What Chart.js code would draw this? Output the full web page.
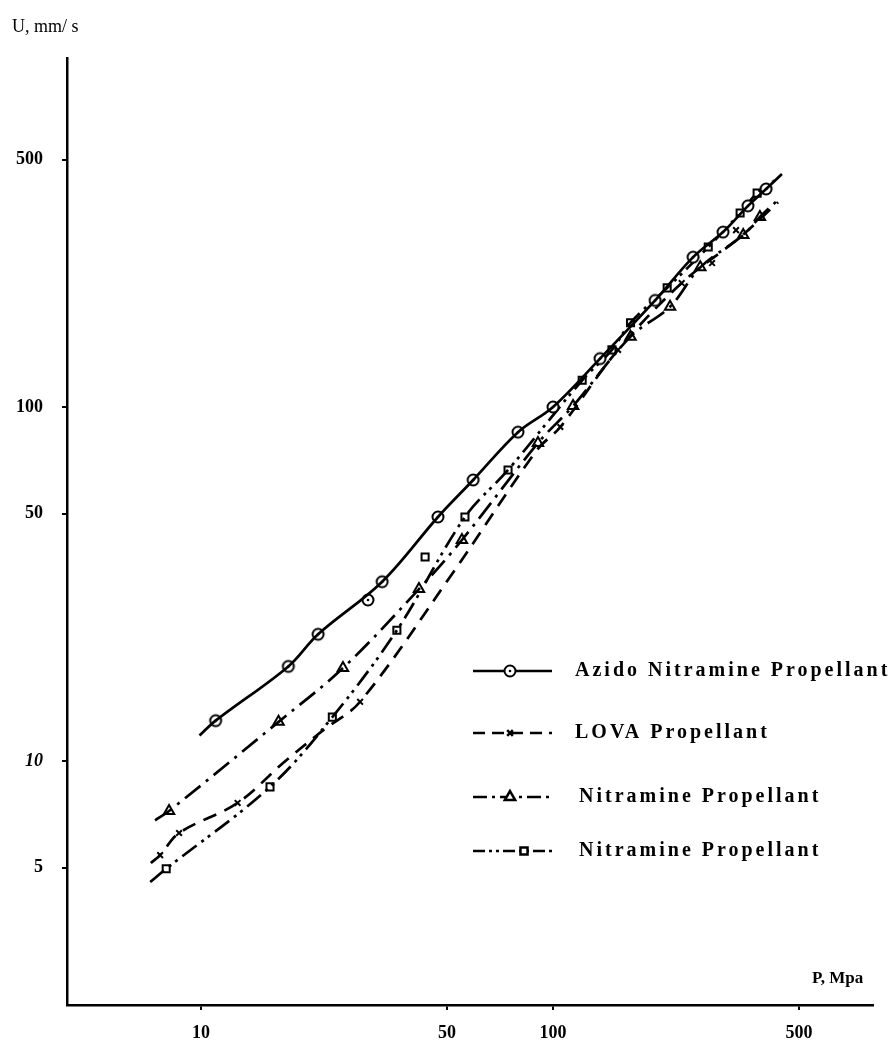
<!DOCTYPE html>
<html>
<head>
<meta charset="utf-8">
<script src="https://cdn.jsdelivr.net/npm/chart.js@4.4.1/dist/chart.umd.min.js"></script>
<style>
  body { margin: 0; background: #fff; }
  canvas { display: block; }
</style>
</head>
<body>
<canvas id="burnChart" width="893" height="1046"></canvas>
<script>
// Burning rate U (mm/s) vs pressure P (MPa)
const xTicks = [10, 50, 100, 500];
const yTicks = [5, 10, 50, 100, 500];

// Azido Nitramine Propellant (circles, solid)
const azidoP = [11.0, 17.7, 21.5, 29.8, 32.7, 47.1, 59.3, 79.5, 100, 136, 195, 250, 304, 358, 403];
const azidoU = [13.0, 18.5, 22.8, 28.5, 32.1, 48.9, 62.2, 84.9, 100, 137, 200, 265, 312, 370, 413];
const azidoCurveP = [9.9, 11.0, 17.7, 21.5, 32.7, 47.1, 59.3, 79.5, 100, 136, 195, 250, 304, 358, 403, 447];
const azidoCurveU = [11.8, 13.0, 18.5, 22.8, 32.1, 48.9, 62.2, 84.9, 100, 137, 200, 265, 312, 370, 413, 455];

// LOVA Propellant (x, dashed)
const lovaP = [7.65, 8.66, 12.7, 28.3, 104.9, 153, 232, 283, 331];
const lovaU = [5.42, 6.26, 7.61, 14.7, 87.8, 145, 224, 255, 316];
const lovaCurveP = [7.2, 7.65, 8.66, 12.7, 17.1, 22.2, 28.3, 51.6, 90.1, 104.9, 153, 232, 340, 436];
const lovaCurveU = [5.15, 5.42, 6.26, 7.61, 9.87, 12.2, 14.7, 33.7, 75.7, 87.8, 145, 224, 302, 379];

// Nitramine Propellant (triangles, dash-dot)
const triP = [8.11, 16.6, 25.3, 41.6, 55.1, 90.6, 114, 166, 215, 262, 347, 387];
const triU = [7.22, 12.9, 18.3, 30.6, 42.1, 79.1, 100.7, 158, 192, 248, 306, 344];
const triCurveP = [7.4, 8.11, 16.6, 25.3, 41.6, 55.1, 90.6, 114, 166, 215, 262, 347, 387, 442];
const triCurveU = [6.8, 7.22, 12.9, 18.3, 30.6, 42.1, 79.1, 100.7, 158, 192, 248, 306, 344, 390];

// Nitramine Propellant (squares, dash-dot-dot)
const sqP = [7.96, 15.7, 23.6, 36, 43.3, 56.2, 74.5, 121, 147, 166, 211, 276, 340, 380];
const sqU = [4.96, 8.45, 13.3, 23.4, 37.7, 48.9, 66.4, 119, 145, 173, 217, 283, 353, 402];
const sqCurveP = [7.17, 7.96, 15.7, 23.6, 36, 56.2, 74.5, 121, 147, 166, 211, 276, 340, 380, 427];
const sqCurveU = [4.55, 4.96, 8.45, 13.3, 23.4, 48.9, 66.4, 119, 145, 173, 217, 283, 353, 402, 437];

const legendLabels = ['Azido Nitramine Propellant', 'LOVA Propellant', 'Nitramine Propellant', 'Nitramine Propellant'];

const pts = (xs, ys) => xs.map((x, i) => ({ x: x, y: ys[i] }));

// hollow circle with a dot in the middle
const dotCircle = document.createElement('canvas');
dotCircle.width = 16; dotCircle.height = 16;
(function () {
  const g = dotCircle.getContext('2d');
  g.beginPath(); g.arc(8, 8, 5.5, 0, Math.PI * 2);
  g.fillStyle = '#fff'; g.fill();
  g.lineWidth = 2; g.strokeStyle = '#000'; g.stroke();
  g.beginPath(); g.arc(8, 8, 1.3, 0, Math.PI * 2);
  g.fillStyle = '#000'; g.fill();
})();

const series = [
  { cx: azidoCurveP, cy: azidoCurveU, mx: azidoP, my: azidoU, dash: [], style: dotCircle, r: 6 },
  { cx: lovaCurveP, cy: lovaCurveU, mx: lovaP, my: lovaU, dash: [14, 9], style: 'crossRot', r: 4 },
  { cx: triCurveP, cy: triCurveU, mx: triP, my: triU, dash: [20, 7, 3, 7], style: 'triangle', r: 6 },
  { cx: sqCurveP, cy: sqCurveU, mx: sqP, my: sqU, dash: [18, 6, 3, 5, 3, 6], style: 'rect', r: 5 }
];

const datasets = [];
series.forEach(s => {
  datasets.push({
    data: pts(s.cx, s.cy), showLine: true, tension: 0.35,
    borderColor: '#000', borderWidth: 2.7, borderDash: s.dash, pointRadius: 0
  });
  datasets.push({
    data: pts(s.mx, s.my), showLine: false,
    pointStyle: s.style, pointRadius: s.r, pointBorderWidth: 2,
    pointBackgroundColor: '#fff', pointBorderColor: '#000'
  });
});

const legendRows = [671, 733, 797, 851];

const annotate = {
  id: 'annotate',
  afterDraw(chart) {
    const c = chart.ctx;
    c.save();
    c.fillStyle = '#000';
    c.textBaseline = 'middle';
    c.font = '18px "Liberation Serif"';
    c.fillText('U, mm/ s', 12, 27);
    c.font = 'bold 17px "Liberation Serif"';
    c.fillText('P, Mpa', 812, 979);

    c.font = 'bold 20px "Liberation Serif"';
    c.letterSpacing = '3px';
    series.forEach((s, i) => {
      const y = legendRows[i];
      c.save();
      c.strokeStyle = '#000';
      c.fillStyle = '#fff';
      c.lineWidth = 2.5;
      c.setLineDash(i === 1 ? [12, 7] : i === 2 ? [14, 5, 3, 5] : i === 3 ? [12, 4, 3, 4, 3, 4] : []);
      c.beginPath(); c.moveTo(473, y); c.lineTo(552, y); c.stroke();
      c.setLineDash([]);
      Chart.helpers.drawPoint(c, {
        pointStyle: s.style, radius: s.r, borderWidth: 2, rotation: 0
      }, i === 3 ? 524 : 510, y);
      c.restore();
      c.fillText(legendLabels[i], i < 2 ? 575 : 579, y);
    });
    c.restore();
  }
};

new Chart(document.getElementById('burnChart'), {
  type: 'scatter',
  data: { datasets: datasets },
  options: {
    responsive: false,
    animation: false,
    layout: { padding: { top: 58, right: 20, left: 0, bottom: 0 } },
    plugins: { legend: { display: false }, tooltip: { enabled: false } },
    scales: {
      x: {
        type: 'logarithmic',
        min: 4.16, max: 811,
        afterFit: s => { s.height = 41; },
        afterBuildTicks: s => { s.ticks = xTicks.map(v => ({ value: v })); },
        border: { display: true, color: '#000', width: 2.5 },
        grid: { drawOnChartArea: false, drawTicks: true, tickLength: 5, color: '#000', lineWidth: 2 },
        ticks: {
          color: '#000', padding: 13, maxRotation: 0,
          font: { family: 'Liberation Serif', size: 18, weight: 'bold' },
          callback: v => String(v)
        }
      },
      y: {
        type: 'logarithmic',
        min: 2.045, max: 968,
        afterFit: s => { s.width = 67; },
        afterBuildTicks: s => { s.ticks = yTicks.map(v => ({ value: v })); },
        border: { display: true, color: '#000', width: 2.5 },
        grid: { drawOnChartArea: false, drawTicks: true, tickLength: 5, color: '#000', lineWidth: 2 },
        ticks: {
          color: '#000', padding: 19,
          font: ctx => ({ family: 'Liberation Serif', size: 18, weight: 'bold',
            style: ctx.tick && ctx.tick.value === 10 ? 'italic' : 'normal' }),
          callback: v => String(v)
        }
      }
    }
  },
  plugins: [annotate]
});
</script>
</body>
</html>
